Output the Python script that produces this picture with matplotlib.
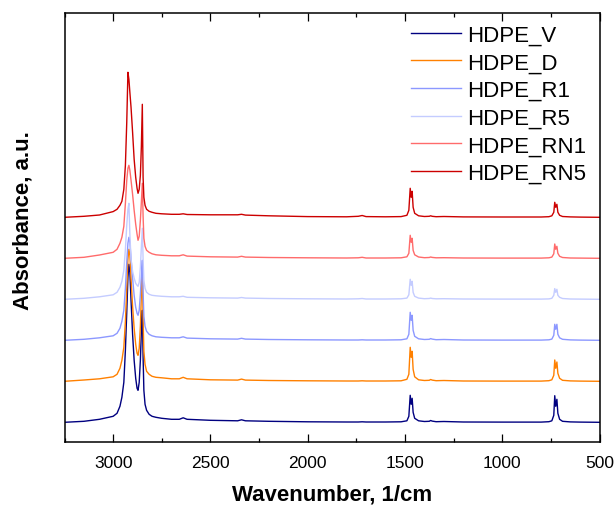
import matplotlib
matplotlib.use("Agg")
import matplotlib.pyplot as plt
import numpy as np
from matplotlib.ticker import MultipleLocator

plt.rcParams["font.family"] = ["Liberation Sans", "DejaVu Sans"]

# wavenumber grid (1/cm) shared by all spectra
wavenumber = [3250, 3150, 3070, 3000, 2980, 2965, 2955, 2945, 2937, 2930,
              2924, 2919, 2914, 2908, 2900, 2892, 2884, 2877, 2872, 2866,
              2860, 2855, 2850, 2846, 2842, 2836, 2828, 2815, 2800, 2780,
              2750, 2700, 2660, 2640, 2620, 2500, 2360, 2340, 2320, 2200,
              2000, 1800, 1740, 1720, 1700, 1600, 1520, 1490, 1480, 1473,
              1468, 1463, 1458, 1450, 1430, 1400, 1375, 1368, 1360, 1340,
              1300, 1200, 1000, 800, 760, 745, 735, 730, 725, 719,
              714, 705, 690, 650, 600, 500]

# absorbance x100 (a.u.)
hdpe_v = [0, 1, 3, 6, 9, 16, 25, 40, 72, 110,
          145, 158, 150, 122, 88, 62, 44, 34, 32, 40,
          62, 90, 112, 65, 32, 18, 12, 8, 6, 5,
          4, 3, 3, 4.5, 3, 2, 1.5, 2.5, 1.5, 1,
          0.5, 0.3, 0.3, 0.5, 0.3, 0.3, 0.5, 1.5, 6, 27,
          18, 24, 10, 4, 1.5, 0.8, 1, 1.8, 1.2, 0.6,
          0.8, 0.3, 0.2, 0.2, 0.6, 1.5, 7, 26.6, 16, 23,
          9, 3, 1, 0.4, 0.2, 0]
hdpe_d = [0, 1.3, 2.5, 4.5, 7, 13, 21, 34, 60, 92,
          122, 132, 126, 103, 75, 53, 37, 28, 26, 33,
          55, 85, 109, 62, 30, 17, 10, 7, 5, 4,
          3.5, 2.5, 2.5, 4, 2.5, 1.5, 1.2, 2.2, 1.2, 0.8,
          0.5, 0.3, 0.3, 0.5, 0.3, 0.3, 0.5, 2, 7, 34,
          24, 30, 12, 4.5, 1.5, 0.8, 1, 1.8, 1.2, 0.6,
          0.8, 0.3, 0.2, 0.2, 0.6, 1.5, 6, 21.3, 13, 19.3,
          8, 3, 1, 0.4, 0.2, 0]
hdpe_r1 = [0, 1, 2.5, 4.5, 7, 12, 19, 30, 52, 78,
           97, 103, 98, 82, 62, 45, 33, 27, 25, 30,
           46, 64, 80, 48, 24, 14, 9, 6, 4.5, 3.5,
           3, 2.5, 2.5, 3.5, 2.2, 1.5, 1.2, 2, 1.2, 0.8,
           0.5, 0.3, 0.3, 0.5, 0.3, 0.3, 0.5, 1.5, 6, 28,
           20, 25, 10, 4, 1.5, 0.8, 1, 1.7, 1.2, 0.6,
           0.8, 0.3, 0.2, 0.2, 0.5, 1.2, 5, 16, 11, 16,
           6, 2.5, 1, 0.4, 0.2, 0]
hdpe_r5 = [0, 1, 2.5, 4.5, 7, 12, 18, 29, 50, 74,
           90, 96, 65, 40, 28, 21, 16, 14, 13, 17,
           32, 52, 71, 40, 19, 11, 7, 5, 4, 3.5,
           3, 2.5, 2.5, 3, 2, 1.5, 1.2, 1.8, 1.2, 0.8,
           0.5, 0.3, 0.5, 0.8, 0.3, 0.3, 0.5, 1.2, 4.5, 20,
           14, 18, 7, 3, 1.2, 0.6, 0.8, 1.2, 0.8, 0.5,
           0.6, 0.3, 0.2, 0.2, 0.4, 1, 4, 10.7, 7, 10,
           4, 2, 0.8, 0.3, 0.2, 0]
hdpe_rn1 = [0, 1, 3.3, 6, 9, 15, 21, 32, 55, 78,
            90, 93, 88, 78, 64, 48, 34, 24, 18, 22,
            38, 56, 75, 42, 20, 12, 8, 6, 4.5, 3.5,
            3, 2.5, 2.5, 3.5, 2.2, 1.5, 1.2, 2, 1.2, 0.8,
            0.5, 0.3, 0.5, 1, 0.3, 0.3, 0.5, 1.5, 5, 23,
            16, 20, 8, 3.5, 1.3, 0.6, 0.8, 1.3, 0.9, 0.5,
            0.6, 0.3, 0.2, 0.2, 0.5, 1.2, 4.5, 14.3, 9, 12,
            5, 2, 0.8, 0.3, 0.2, 0]
hdpe_rn5 = [0, 1, 2.3, 5.7, 8, 12, 16, 28, 52, 95,
            145, 138, 125, 110, 85, 58, 40, 29, 24, 28,
            42, 70, 113, 40, 20, 12, 8, 6, 5, 4,
            3.5, 3, 3, 3.5, 2.8, 2.5, 2.5, 3, 2.2, 1.5,
            0.7, 0.5, 1, 1.8, 0.7, 0.5, 0.7, 2, 7, 29,
            20, 26, 10, 4, 1.5, 0.8, 1, 1.5, 1, 0.6,
            0.8, 0.4, 0.3, 0.3, 0.6, 1.5, 5, 15, 10, 13,
            5, 2, 0.8, 0.4, 0.2, 0]

labels = ["HDPE_V", "HDPE_D", "HDPE_R1", "HDPE_R5", "HDPE_RN1", "HDPE_RN5"]
spectra = [hdpe_v, hdpe_d, hdpe_r1, hdpe_r5, hdpe_rn1, hdpe_rn5]
colors = ["#000080", "#ff8000", "#8c98ff", "#c4ccff", "#ff6b6b", "#cc0000"]
OFFSET = 0.41

fig = plt.figure(figsize=(6.14, 5.06), dpi=100)
ax = fig.add_axes([64.5 / 614, 1 - 443 / 506, 535 / 614, 429.5 / 506])

x = np.array(wavenumber)
for i, (lab, spec, col) in enumerate(zip(labels, spectra, colors)):
    ax.plot(x, np.array(spec) / 100 + i * OFFSET, color=col, lw=1.0, label=lab)

ax.set_xlim(3250, 500)
ax.set_ylim(-0.197, 4.098)
ax.xaxis.set_major_locator(MultipleLocator(500))
ax.xaxis.set_minor_locator(MultipleLocator(250))
ax.tick_params(axis="x", which="both", direction="in", top=True, bottom=True,
               labelsize=12.5, pad=9, width=0.9)
ax.tick_params(axis="x", which="major", length=6)
ax.tick_params(axis="x", which="minor", length=3.2)
ax.set_yticks([])
for sp in ax.spines.values():
    sp.set_linewidth(1.1)

ax.set_xlabel("Wavenumber, 1/cm", fontsize=16, fontweight="bold", labelpad=10)
ax.set_ylabel("Absorbance, a.u.", fontsize=16, fontweight="bold")
ax.yaxis.set_label_coords(-0.058, 0.517)

ax.legend(loc="upper left", bbox_to_anchor=(0.647, 0.972), frameon=False,
          fontsize=16, handlelength=2.25, handletextpad=0.3, labelspacing=0.3,
          borderpad=0, borderaxespad=0)

fig.savefig("out.png", dpi=100)
